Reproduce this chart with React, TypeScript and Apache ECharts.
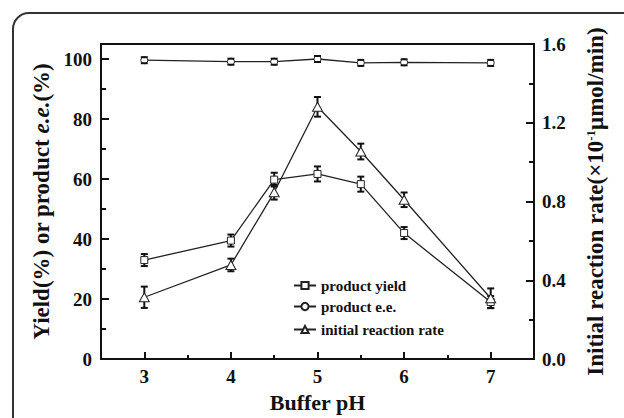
import React, { useEffect, useRef } from 'react';
import * as echarts from 'echarts';

const pH = [3, 4, 4.5, 5, 5.5, 6, 7];
const yieldVals = [33, 39.5, 59.8, 61.7, 58.3, 42, 19];
const yieldErr = [2, 2, 2.3, 2.5, 2.5, 2, 2];
const eeVals = [99.6, 99.1, 99.1, 100, 98.7, 98.9, 98.7];
const eeErr = [1, 1, 1, 1, 1, 1, 1];
const rateVals = [0.314, 0.478, 0.847, 1.281, 1.054, 0.809, 0.309];
const rateErr = [0.054, 0.032, 0.037, 0.05, 0.04, 0.037, 0.05];
const xTickValues = [3, 4, 5, 6, 7];
const seriesNames = ['product yield', 'product e.e.', 'initial reaction rate'];

const FONT = "'Liberation Serif', serif";
const INK = '#111';

function errData(vals: number[], errs: number[]) {
  return pH.map((x, i) => [x, vals[i] - errs[i], vals[i] + errs[i]]);
}

function makeErr(withStem: boolean) {
  return (params: any, api: any) => {
    const x = api.value(0);
    const lo = api.coord([x, api.value(1)]);
    const hi = api.coord([x, api.value(2)]);
    const hw = 3.5;
    const st = { stroke: INK, lineWidth: 2 };
    const children: any[] = [
      { type: 'line', shape: { x1: hi[0] - hw, y1: hi[1], x2: hi[0] + hw, y2: hi[1] }, style: st },
      { type: 'line', shape: { x1: lo[0] - hw, y1: lo[1], x2: lo[0] + hw, y2: lo[1] }, style: st },
    ];
    if (withStem) {
      children.unshift({ type: 'line', shape: { x1: lo[0], y1: lo[1], x2: hi[0], y2: hi[1] }, style: st });
    }
    return { type: 'group', children };
  };
}

export default function App() {
  const ref = useRef<HTMLDivElement>(null);
  useEffect(() => {
    if (!ref.current) return;
    const chart = echarts.init(ref.current, undefined, { renderer: 'svg' });
    const axisLabel = { fontFamily: FONT, fontWeight: 'bold', fontSize: 19, color: INK };
    const lineStyle = { color: INK, width: 2 };
    const lineSeries = (name: string, vals: number[], symbol: string, size: any, yAxisIndex: number) => ({
      name,
      type: 'line',
      yAxisIndex,
      data: pH.map((x, i) => [x, vals[i]]),
      symbol,
      symbolSize: size,
      showAllSymbol: true,
      lineStyle: { color: '#222', width: 1.3 },
      itemStyle: { color: '#fff', borderColor: '#222', borderWidth: 1 },
      z: 3,
    });
    const legendText = () => ({
      fontFamily: FONT, fontWeight: 'bold', fontSize: 15, color: INK,
      rich: { b: { fontFamily: FONT, fontWeight: 'bold', fontSize: 15, color: INK } },
    });
    const legendFmt = (name: string) => '{b|' + name + '}';
    chart.setOption({
      animation: false,
      backgroundColor: '#fff',
      graphic: [
        {
          type: 'rect',
          shape: { x: 13, y: 13, width: 700, height: 500, r: 16 },
          style: { fill: 'none', stroke: '#333', lineWidth: 2 },
          silent: true,
          z: 0,
        },
      ],
      grid: {
        left: 101, top: 44, width: 433, height: 322,
        show: true, borderColor: INK, borderWidth: 2, backgroundColor: 'transparent',
      },
      legend: [
        {
          data: seriesNames.slice(0, 2),
          orient: 'vertical',
          left: 288,
          top: 273,
          itemWidth: 22,
          itemHeight: 9,
          itemGap: 6,
          formatter: legendFmt,
          textStyle: legendText(),
        },
        {
          data: seriesNames.slice(2),
          orient: 'vertical',
          left: 288,
          top: 317,
          itemWidth: 22,
          itemHeight: 9,
          formatter: legendFmt,
          textStyle: legendText(),
        },
      ],
      xAxis: [
        {
          type: 'value',
          min: 2.5,
          max: 7.5,
          splitNumber: 5,
          name: 'Buffer pH',
          nameLocation: 'middle',
          nameGap: 30,
          nameTextStyle: { fontFamily: FONT, fontWeight: 'bold', fontSize: 22, color: INK },
          axisLine: { show: true, lineStyle },
          axisTick: { show: true, inside: true, length: 7, lineStyle },
          minorTick: { show: true, splitNumber: 2, length: 4, lineStyle },
          splitLine: { show: false },
          axisLabel: {
            ...axisLabel,
            margin: 8,
            showMinLabel: false,
            showMaxLabel: false,
            formatter: (v: number) => (xTickValues.includes(v) ? String(v) : ''),
          },
        },
      ],
      yAxis: [
        {
          type: 'value',
          min: 0,
          max: 105,
          interval: 20,
          position: 'left',
          name: 'Yield(%) or product {i|e.e.}(%)',
          nameLocation: 'middle',
          nameGap: 41,
          nameTextStyle: {
            fontFamily: FONT, fontWeight: 'bold', fontSize: 23, color: INK,
            rich: { i: { fontFamily: FONT, fontWeight: 'bold', fontStyle: 'italic', fontSize: 23, color: INK } },
          },
          axisLine: { show: true, lineStyle },
          axisTick: { show: true, inside: true, length: 8, lineStyle },
          minorTick: { show: true, splitNumber: 2, length: 5, lineStyle },
          splitLine: { show: false },
          axisLabel: { ...axisLabel, margin: 9, showMaxLabel: false },
        },
        {
          type: 'value',
          min: 0,
          max: 1.6,
          interval: 0.4,
          position: 'right',
          name: 'Initial reaction rate(×10{sup|-1}μmol/min)',
          nameLocation: 'middle',
          nameGap: 50,
          nameTextStyle: {
            fontFamily: FONT, fontWeight: 'bold', fontSize: 23, color: INK,
            rich: { sup: { fontFamily: FONT, fontWeight: 'bold', fontSize: 13, color: INK, verticalAlign: 'top', lineHeight: 23 } },
          },
          axisLine: { show: true, lineStyle },
          axisTick: { show: true, inside: true, length: 8, lineStyle },
          minorTick: { show: true, splitNumber: 2, length: 5, lineStyle },
          splitLine: { show: false },
          axisLabel: { ...axisLabel, margin: 8, formatter: (v: number) => v.toFixed(1) },
        },
      ],
      series: [
        { name: 'err-yield', type: 'custom', yAxisIndex: 0, renderItem: makeErr(true), data: errData(yieldVals, yieldErr), encode: { x: 0, y: [1, 2] }, z: 2, silent: true },
        { name: 'err-ee', type: 'custom', yAxisIndex: 0, renderItem: makeErr(false), data: errData(eeVals, eeErr), encode: { x: 0, y: [1, 2] }, z: 4, silent: true },
        { name: 'err-rate', type: 'custom', yAxisIndex: 1, renderItem: makeErr(true), data: errData(rateVals, rateErr), encode: { x: 0, y: [1, 2] }, z: 2, silent: true },
        lineSeries(seriesNames[0], yieldVals, 'rect', 7, 0),
        lineSeries(seriesNames[1], eeVals, 'circle', 7, 0),
        lineSeries(seriesNames[2], rateVals, 'triangle', [10, 9], 1),
      ],
    });
    return () => chart.dispose();
  }, []);
  return <div ref={ref} style={{ position: 'absolute', left: 0, top: 0, width: 624, height: 418 }} />;
}
